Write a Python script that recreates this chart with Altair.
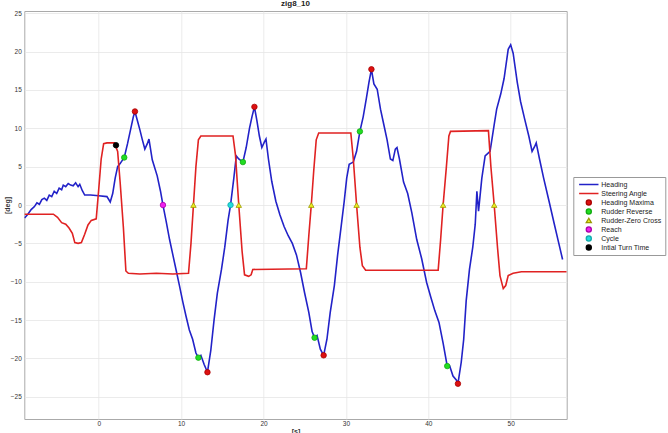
import altair as alt
import pandas as pd

# ---------------- data ----------------
heading_t = [-9.0, -8.6, -8.2, -7.8, -7.5, -7.2, -6.9, -6.6, -6.3, -6.0, -5.7, -5.4, -5.1, -4.8, -4.5,
             -4.3, -4.0, -3.7, -3.4, -3.1, -2.8, -2.5, -2.3, -2.0, -1.7, -1.0, 0.0, 1.0, 1.4, 1.7,
             2.0, 2.3, 2.6, 3.1, 3.5, 3.9, 4.2, 4.4, 4.7, 5.0, 5.3, 5.6, 5.9, 6.1, 6.5, 7.1, 7.5,
             7.8, 8.2, 8.6, 9.0, 9.4, 9.8, 10.2, 10.6, 11.0, 11.4, 11.8, 12.1, 12.4, 12.8, 13.2,
             13.6, 14.0, 14.4, 14.9, 15.3, 15.7, 16.0, 16.4, 16.7, 17.0, 17.5, 17.9, 18.3, 18.6,
             18.9, 19.2, 19.5, 19.8, 20.1, 20.3, 20.6, 21.0, 21.5, 22.0, 22.5, 23.0, 23.5, 24.0,
             24.5, 25.0, 25.5, 25.9, 26.2, 26.5, 26.9, 27.3, 27.7, 28.1, 28.6, 29.0, 29.4, 29.8,
             30.1, 30.4, 30.9, 31.3, 31.7, 32.1, 32.5, 32.8, 33.1, 33.4, 33.8, 34.2, 34.6, 35.0,
             35.4, 35.7, 36.0, 36.2, 36.5, 37.0, 37.5, 38.0, 38.6, 39.2, 39.8, 40.3, 40.8, 41.3,
             41.8, 42.3, 42.6, 43.0, 43.4, 43.6, 44.0, 44.3, 44.6, 45.0, 45.4, 45.7, 45.9, 46.0,
             46.1, 46.5, 46.9, 47.5, 48.0, 48.3, 48.8, 49.2, 49.7, 50.0, 50.3, 50.8, 51.2, 51.7,
             52.2, 52.6, 52.9, 53.1, 53.5, 54.0, 54.7, 55.3, 55.8, 56.3]
heading_y = [-1.7, -1.2, -0.6, -0.2, 0.3, 0.1, 0.7, 0.9, 0.6, 1.3, 1.1, 1.8, 1.5, 2.2, 2.0,
             2.6, 2.4, 2.8, 2.6, 2.5, 2.9, 2.4, 2.7, 1.9, 1.3, 1.3, 1.2, 1.1, 0.4, 1.5,
             3.5, 5.0, 5.4, 6.2, 8.0, 10.0, 11.5, 12.2, 11.0, 9.8, 8.5, 7.3, 8.0, 8.6, 5.9, 3.8, 1.8,
             0.0, -2.2, -4.5, -6.5, -8.5, -10.5, -12.6, -14.5, -16.3, -17.5, -19.3, -19.9, -19.6, -20.8, -21.8,
             -19.0, -15.0, -11.5, -8.4, -5.5, -2.0, 0.0, 3.5, 6.4, 6.0, 5.6, 7.5, 10.0, 11.5,
             12.8, 11.0, 9.0, 7.5, 8.2, 8.6, 6.0, 3.1, 0.5, -1.3, -2.8, -4.0, -5.0, -6.5,
             -8.8, -11.5, -14.0, -16.5, -17.3, -17.0, -18.8, -19.6, -17.5, -14.0, -10.5, -6.5, -3.0, 0.5,
             3.5, 5.3, 5.6, 7.0, 9.6, 11.5, 14.0, 16.0, 17.7, 15.8, 15.1, 12.5, 10.5, 8.5,
             6.0, 5.8, 7.3, 7.5, 6.0, 3.0, 1.5, -1.0, -4.5, -7.0, -10.1, -12.0, -13.8, -15.3,
             -18.0, -21.0, -21.0, -22.3, -22.8, -23.3, -20.5, -17.5, -12.5, -8.4, -5.5, -2.5, 1.8, 0.5,
             -0.8, 3.5, 6.4, 7.0, 10.5, 12.5, 14.5, 16.5, 20.3, 20.9, 19.8, 16.0, 13.5, 11.2,
             9.0, 7.0, 7.6, 8.1, 6.0, 3.5, 0.3, -2.5, -4.8, -7.1]

steer_t = [-9.0, -5.5, -5.0, -4.5, -4.0, -3.6, -3.2, -2.9, -2.5, -2.1, -1.7, -1.3, -0.9, -0.3,
           0.0, 0.3, 0.6, 1.0, 1.9, 2.3, 2.6, 3.0, 3.3, 3.6, 5.0, 7.0, 9.0, 10.9, 11.2, 11.5,
           11.8, 12.1, 12.4, 16.3, 16.6, 17.0, 17.4, 17.7, 18.2, 18.5, 18.7, 25.2, 25.5, 25.8,
           26.1, 26.4, 26.7, 30.6, 30.9, 31.3, 31.7, 32.0, 32.4, 41.2, 41.5, 41.8, 42.2, 42.5,
           42.7, 47.3, 47.6, 48.0, 48.4, 48.7, 49.1, 49.4, 49.7, 50.3, 51.3, 56.8]
steer_y = [-1.2, -1.2, -1.6, -2.3, -2.5, -3.0, -3.7, -4.9, -5.0, -4.9, -3.8, -2.6, -2.0, -1.8,
           2.0, 6.0, 8.0, 8.1, 8.1, 7.0, 3.0, -3.0, -8.6, -8.9, -9.0, -8.9, -9.0, -8.9, -5.0, 0.0,
           5.0, 8.5, 9.0, 9.0, 6.5, 0.0, -6.0, -9.1, -9.3, -9.1, -8.4, -8.3, -4.0, 0.0,
           4.5, 8.5, 9.4, 9.4, 6.0, 0.0, -5.5, -7.9, -8.5, -8.5, -4.5, 0.0, 5.0, 9.0,
           9.6, 9.7, 5.0, 0.0, -5.5, -9.2, -10.9, -10.5, -9.2, -8.9, -8.7, -8.7]

maxima_t = [4.4, 13.2, 18.9, 27.3, 33.1, 43.6]
maxima_y = [12.2, -21.8, 12.8, -19.6, 17.7, -23.3]
reverse_t = [3.1, 12.1, 17.5, 26.2, 31.7, 42.3]
reverse_y = [6.2, -19.9, 5.6, -17.3, 9.6, -21.0]
zero_t = [11.5, 17.0, 25.8, 31.3, 41.8, 48.0]
zero_y = [0.0, 0.0, 0.0, 0.0, 0.0, 0.0]
reach_t = [7.8]
reach_y = [0.0]
cycle_t = [16.0]
cycle_y = [0.0]
initial_t = [2.1]
initial_y = [7.8]

series_names = ["Heading", "Steering Angle", "Heading Maxima", "Rudder Reverse",
                "Rudder-Zero Cross", "Reach", "Cycle", "Intial Turn Time"]
x_ticks = [0, 10, 20, 30, 40, 50]
y_ticks = [-25, -20, -15, -10, -5, 0, 5, 10, 15, 20, 25]

# ---------------- tables ----------------
lines = pd.concat([
    pd.DataFrame({"t": heading_t, "y": heading_y, "series": "Heading"}),
    pd.DataFrame({"t": steer_t, "y": steer_y, "series": "Steering Angle"}),
])
points = pd.concat([
    pd.DataFrame({"t": maxima_t, "y": maxima_y, "series": "Heading Maxima"}),
    pd.DataFrame({"t": reverse_t, "y": reverse_y, "series": "Rudder Reverse"}),
    pd.DataFrame({"t": zero_t, "y": zero_y, "series": "Rudder-Zero Cross"}),
    pd.DataFrame({"t": reach_t, "y": reach_y, "series": "Reach"}),
    pd.DataFrame({"t": cycle_t, "y": cycle_y, "series": "Cycle"}),
    pd.DataFrame({"t": initial_t, "y": initial_y, "series": "Intial Turn Time"}),
])

line_path = "M-3.8,0H3.8"
fill_range = ["#2222c8", "#e02222", "#dd1111", "#22dd22", "#eeee22", "#ee22ee", "#22dddd", "#000000"]
stroke_range = ["#2222c8", "#e02222", "#aa0000", "#11aa11", "#999900", "#aa00aa", "#11aaaa", "#000000"]
shape_range = [line_path, line_path, "circle", "circle", "triangle-up", "circle", "circle", "circle"]

legend = alt.Legend(
    title=None, orient="none", legendX=549, legendY=166,
    fillColor="white", strokeColor="#999999", padding=4, rowPadding=1,
    labelFontSize=7, labelFont="Liberation Sans", labelColor="#222222",
    symbolSize=26, symbolStrokeWidth=1.3, symbolOffset=8, labelOffset=9,
    clipHeight=7, cornerRadius=0,
)

x_enc = alt.X("t:Q", scale=alt.Scale(domain=[-9.03, 56.8], nice=False, zero=False),
              axis=alt.Axis(values=x_ticks, title="[s]", ticks=False, domain=False,
                            labelPadding=1.5, titleY=8, titleBaseline="top"))
y_enc = alt.Y("y:Q", scale=alt.Scale(domain=[-27.9, 25.3], nice=False, zero=False),
              axis=alt.Axis(values=y_ticks, title="[deg]", ticks=False, domain=False,
                            labelPadding=3, titleX=-17, titleY=194, titleAngle=270,
                            titleAlign="center", titleBaseline="middle"))

stroke_scale = alt.Scale(domain=series_names, range=stroke_range)
fill_scale = alt.Scale(domain=series_names, range=fill_range)
shape_scale = alt.Scale(domain=series_names, range=shape_range)

line_layer = alt.Chart(lines).mark_line(strokeWidth=1.6, clip=True).encode(
    x=x_enc, y=y_enc,
    stroke=alt.Stroke("series:N", scale=stroke_scale, legend=legend),
    detail="series:N",
)

point_layer = alt.Chart(points).mark_point(filled=True, size=30, strokeWidth=0.8, opacity=1).encode(
    x="t:Q", y="y:Q",
    stroke=alt.Stroke("series:N", scale=stroke_scale, legend=legend),
    fill=alt.Fill("series:N", scale=fill_scale, legend=legend),
    shape=alt.Shape("series:N", scale=shape_scale, legend=legend),
)

chart = alt.layer(line_layer, point_layer).properties(
    width=542.4, height=408,
    title=alt.TitleParams("zig8_10", fontSize=8, font="Liberation Sans", fontWeight="bold",
                          offset=2, color="#222222"),
    autosize=alt.AutoSizeParams(type="none"),
    padding={"left": 24.3, "top": 11, "right": 101.3, "bottom": 14},
).configure_view(
    stroke="#aaaaaa", strokeWidth=1,
).configure_axis(
    gridColor="#e6e6e6", gridWidth=0.8,
    labelFont="Liberation Sans", labelFontSize=6.5, labelColor="#333333",
    titleFont="Liberation Sans", titleFontSize=7, titleColor="#333333", titleFontWeight="bold",
)

chart.save("out.html", embed_options={"renderer": "svg", "actions": False})
